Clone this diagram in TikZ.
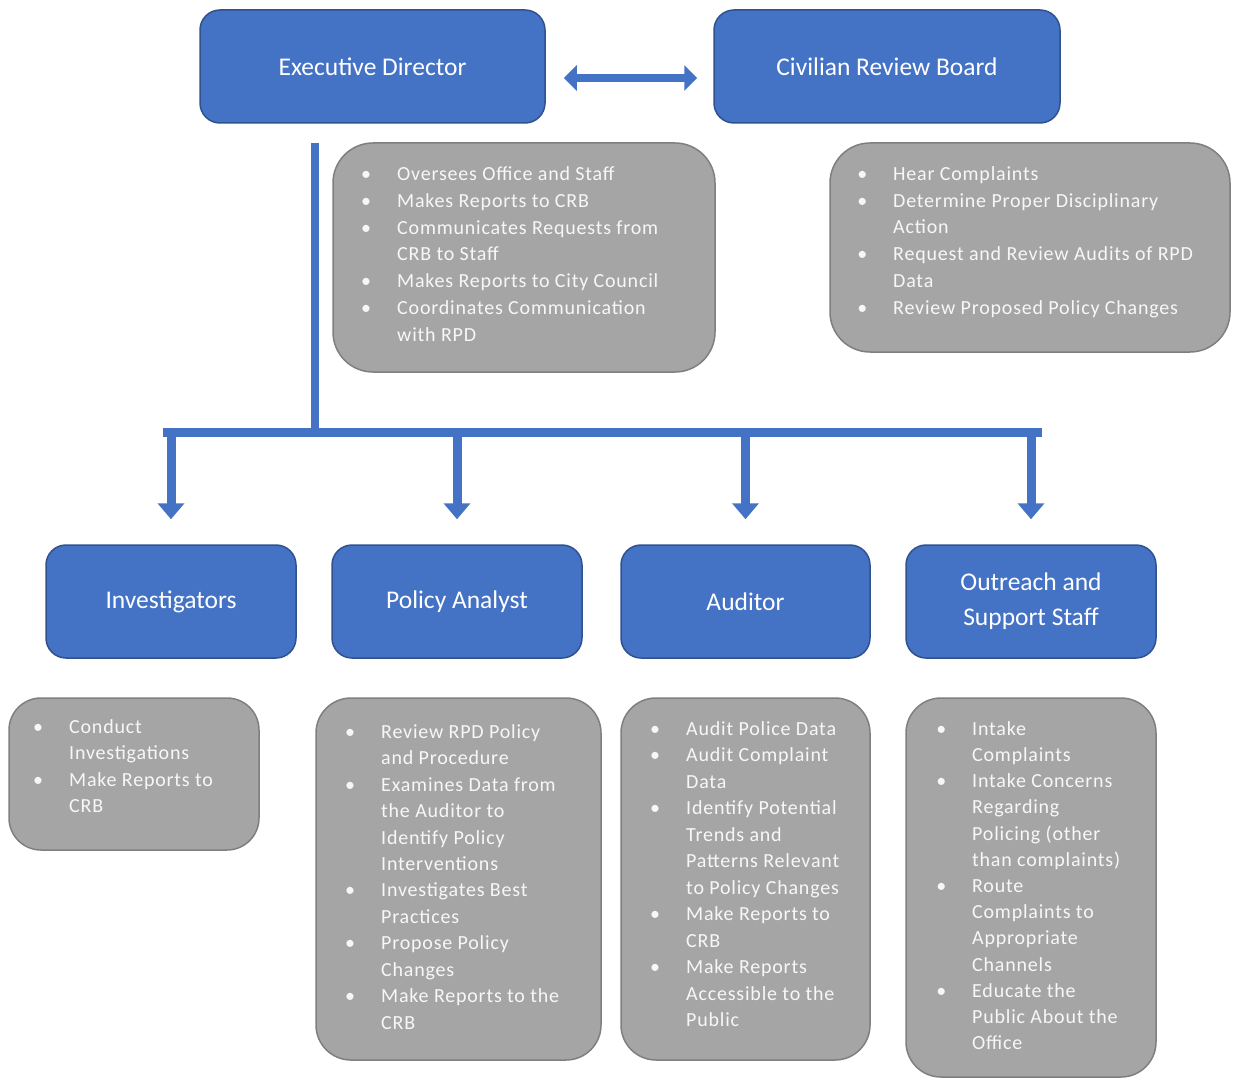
\documentclass[tikz,border=0pt]{standalone}
\usepackage{fontspec}
\setmainfont{Carlito}
\newfontfamily\bodyfont[LetterSpace=4]{Carlito}
\usetikzlibrary{arrows.meta,calc}
\definecolor{blu}{HTML}{4472C4}
\definecolor{bluedge}{HTML}{2F528F}
\definecolor{gry}{HTML}{A5A5A5}
\definecolor{gryedge}{HTML}{7F7F7F}
\definecolor{txt}{HTML}{F7F7F7}
\newcommand\bul{\llap{\textbullet\hspace{26pt}}}
\newcommand\fl{\rule{0pt}{17pt}}
\begin{document}
\begin{tikzpicture}[x=1pt,y=-1pt,
  bluebox/.style={draw=bluedge, line width=1.5pt, fill=blu, rounded corners=20pt,
    text=white, font=\fontsize{25.5}{35}\selectfont, align=center, inner sep=0pt},
  greybox/.style={draw=gryedge, line width=1.5pt, fill=gry, rounded corners=#1, inner sep=0pt},
  list/.style={anchor=north west, inner sep=0pt, text=txt, align=left,
    font=\bodyfont\fontsize{20}{#1}\selectfont},
  conn/.style={draw=blu, line width=8pt},
  downarr/.style={draw=blu, line width=9pt, -{Triangle[width=26pt,length=16pt]}, shorten >=25pt},
  dblarr/.style={draw=blu, line width=8pt, {Triangle[width=25pt,length=13pt]}-{Triangle[width=25pt,length=13pt]}}
]
\useasboundingbox (0,0) rectangle (1233,1078);

% top boxes
\node[bluebox, minimum width=345pt, minimum height=113pt] (ed) at (372.5,66.5) {Executive Director};
\node[bluebox, minimum width=346pt, minimum height=113pt] (crb) at (887,66.5) {Civilian Review Board};
\draw[dblarr] ([xshift=18pt,yshift=-11.5pt]ed.east) -- ([xshift=-16pt,yshift=-11.5pt]crb.west);

\node[greybox=40pt, minimum width=382pt, minimum height=229pt] (edg) at (524,257.5) {};
\node[greybox=40pt, minimum width=400pt, minimum height=209pt] (crbg) at (1030,247.5) {};

\node[list=26.9pt] (edt) at (397,163) {\fl\bul Oversees Office and Staff\\
\bul Makes Reports to CRB\\
\bul Communicates Requests from\\
CRB to Staff\\
\bul Makes Reports to City Council\\
\bul Coordinates Communication\\
with RPD};

\node[list=26.8pt] (crbt) at (893,163) {\fl\bul Hear Complaints\\
\bul Determine Proper Disciplinary\\
Action\\
\bul Request and Review Audits of RPD\\
Data\\
\bul Review Proposed Policy Changes};

% bottom boxes
\node[bluebox, minimum width=250pt, minimum height=113pt] (inv) at (171,601.5) {Investigators};
\node[bluebox, minimum width=250pt, minimum height=113pt] (pol) at (457,601.5) {Policy Analyst};
\node[bluebox, minimum width=249pt, minimum height=113pt] (aud) at (745.5,601.5) {Auditor};
\node[bluebox, minimum width=250pt, minimum height=113pt] (out) at (1031,601.5) {Outreach and\\Support Staff};

% tree connectors
\coordinate (vtop) at (315,143);
\coordinate (jn) at (315,432);
\coordinate (barL) at (163,432);
\coordinate (barR) at (1042,432);
\draw[conn] (vtop) -- (jn);
\draw[conn, line width=9pt] (barL) -- (barR);
\draw[downarr] (inv.north |- barL) -- (inv.north);
\draw[downarr] (pol.north |- barL) -- (pol.north);
\draw[downarr] (aud.north |- barL) -- (aud.north);
\draw[downarr] (out.north |- barL) -- (out.north);

\node[greybox=32pt, minimum width=250pt, minimum height=152pt] (invg) at (134,774) {};
\node[greybox=35pt, minimum width=285pt, minimum height=362pt] (polg) at (458.5,879) {};
\node[greybox=35pt, minimum width=249pt, minimum height=362pt] (audg) at (745.5,879) {};
\node[greybox=35pt, minimum width=250pt, minimum height=379pt] (outg) at (1031,887.5) {};

\node[list=26.5pt] (invt) at (69,716) {\fl\bul Conduct\\
Investigations\\
\bul Make Reports to\\
CRB};

\node[list=26.45pt] (polt) at (381,721) {\fl\bul Review RPD Policy\\
and Procedure\\
\bul Examines Data from\\
the Auditor to\\
Identify Policy\\
Interventions\\
\bul Investigates Best\\
Practices\\
\bul Propose Policy\\
Changes\\
\bul Make Reports to the\\
CRB};

\node[list=26.5pt] (audt) at (686,718) {\fl\bul Audit Police Data\\
\bul Audit Complaint\\
Data\\
\bul Identify Potential\\
Trends and\\
Patterns Relevant\\
to Policy Changes\\
\bul Make Reports to\\
CRB\\
\bul Make Reports\\
Accessible to the\\
Public};

\node[list=26.2pt] (outt) at (972,718) {\fl\bul Intake\\
Complaints\\
\bul Intake Concerns\\
Regarding\\
Policing (other\\
than complaints)\\
\bul Route\\
Complaints to\\
Appropriate\\
Channels\\
\bul Educate the\\
Public About the\\
Office};
\end{tikzpicture}
\end{document}
